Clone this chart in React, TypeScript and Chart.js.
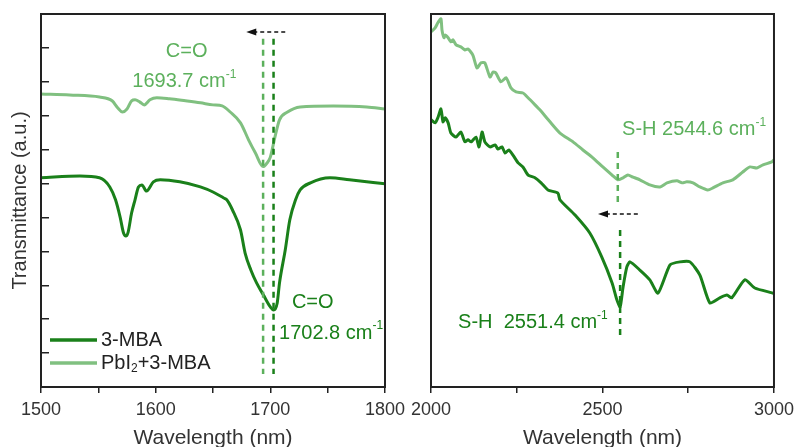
import React, { useEffect, useRef } from 'react';
import { Chart, registerables } from 'chart.js';

Chart.register(...registerables);

const FAMILY = '"Liberation Sans", Arial, sans-serif';
const DARK = '#1a801a';
const LIGHT = '#80c080';
const LIGHT_TEXT = '#5cb05c';
const AXIS = '#222';
const TEXT = '#333';

const seriesNames = ['3-MBA', 'PbI2+3-MBA'];
const leftXTicks = [1500, 1600, 1700, 1800];
const rightXTicks = [2000, 2500, 3000];

const leftPeakLight = 1693.7;
const leftPeakDark = 1702.8;
const rightPeakLight = 2544.6;
const rightPeakDark = 2551.4;

// Left panel: 3-MBA
const leftMbaX = [1500, 1534, 1551, 1560, 1565, 1569, 1572, 1574, 1576, 1579, 1582, 1585, 1588, 1592, 1598, 1604, 1621, 1639, 1650, 1659, 1662, 1667, 1674, 1678, 1683, 1688, 1694, 1700, 1702.8, 1706, 1708, 1713, 1717, 1722, 1726, 1735, 1752, 1769, 1800];
const leftMbaY = [6.17, 6.22, 6.17, 5.9, 5.52, 5.01, 4.54, 4.45, 4.57, 5.13, 5.52, 5.9, 5.96, 5.78, 6.05, 6.11, 6.05, 5.9, 5.75, 5.58, 5.52, 5.22, 4.63, 3.95, 3.45, 3.07, 2.71, 2.36, 2.27, 2.48, 3.07, 4.04, 4.93, 5.52, 5.81, 6.02, 6.17, 6.11, 5.99];

// Left panel: PbI2+3-MBA
const leftPbX = [1500, 1525, 1551, 1562, 1567, 1571, 1575, 1579, 1582, 1586, 1590, 1595, 1601, 1612, 1626, 1639, 1650, 1658, 1665, 1674, 1681, 1687, 1693.7, 1697, 1700, 1704, 1708, 1715, 1726, 1755, 1784, 1800];
const leftPbY = [8.64, 8.61, 8.55, 8.44, 8.23, 8.11, 8.2, 8.44, 8.47, 8.41, 8.32, 8.47, 8.53, 8.5, 8.44, 8.38, 8.32, 8.29, 8.11, 7.79, 7.29, 6.9, 6.5, 6.6, 6.78, 7.37, 7.88, 8.11, 8.26, 8.29, 8.26, 8.2];

// Right panel: 3-MBA
const rightMbaX = [2000, 2012, 2020, 2029, 2035, 2041, 2050, 2058, 2073, 2087, 2099, 2108, 2117, 2131, 2140, 2149, 2157, 2172, 2187, 2195, 2207, 2216, 2227, 2239, 2254, 2268, 2283, 2303, 2321, 2341, 2370, 2376, 2420, 2463, 2498, 2528, 2542, 2551.4, 2560, 2571, 2580, 2609, 2638, 2662, 2697, 2726, 2755, 2784, 2813, 2842, 2863, 2877, 2915, 2944, 2997, 3000];
const rightMbaY = [7.88, 7.79, 7.94, 8.2, 7.82, 7.94, 7.79, 7.49, 7.37, 7.52, 7.23, 7.29, 7.23, 7.37, 7.08, 7.52, 7.23, 7.08, 7.14, 7.02, 7.08, 6.9, 6.99, 6.84, 6.61, 6.49, 6.25, 6.17, 6.02, 5.81, 5.72, 5.52, 5.07, 4.54, 3.83, 3.07, 2.57, 2.36, 2.95, 3.54, 3.69, 3.45, 3.16, 2.77, 3.6, 3.69, 3.69, 3.3, 2.48, 2.63, 2.71, 2.63, 3.16, 2.92, 2.77, 2.75];

// Right panel: PbI2+3-MBA
const rightPbX = [2000, 2012, 2020, 2029, 2032, 2038, 2041, 2050, 2058, 2064, 2073, 2087, 2099, 2108, 2122, 2134, 2146, 2157, 2172, 2181, 2189, 2204, 2219, 2233, 2248, 2268, 2283, 2312, 2318, 2347, 2376, 2414, 2443, 2472, 2501, 2528, 2544.6, 2560, 2574, 2589, 2609, 2638, 2668, 2688, 2717, 2732, 2746, 2764, 2784, 2807, 2822, 2851, 2880, 2909, 2930, 2950, 2968, 2994, 3000];
const rightPbY = [10.47, 10.59, 10.74, 10.86, 10.53, 10.3, 10.38, 10.3, 10.18, 10.24, 10.09, 10.03, 9.94, 9.97, 9.79, 9.41, 9.56, 9.56, 9.14, 9.29, 9.26, 9.0, 9.12, 8.82, 8.7, 8.67, 8.53, 8.23, 8.17, 7.82, 7.49, 7.23, 6.99, 6.76, 6.49, 6.25, 6.11, 6.17, 6.25, 6.19, 6.11, 5.96, 5.9, 6.02, 6.08, 6.02, 6.05, 6.02, 5.9, 5.81, 5.87, 6.02, 6.11, 6.34, 6.49, 6.46, 6.55, 6.64, 6.7];

type Seg = { t: string; sup?: boolean; sub?: boolean };

function drawRich(ctx: CanvasRenderingContext2D, segs: Seg[], x: number, y: number, size: number, color: string, align: 'left' | 'center') {
  ctx.save();
  ctx.fillStyle = color;
  ctx.textBaseline = 'middle';
  ctx.textAlign = 'left';
  const fontFor = (s: Seg) => `${s.sup || s.sub ? Math.round(size * 0.62) : size}px ${FAMILY}`;
  let total = 0;
  for (const s of segs) {
    ctx.font = fontFor(s);
    total += ctx.measureText(s.t).width;
  }
  let cx = align === 'center' ? x - total / 2 : x;
  for (const s of segs) {
    ctx.font = fontFor(s);
    const dy = s.sup ? -size * 0.38 : s.sub ? size * 0.3 : 0;
    ctx.fillText(s.t, cx, y + dy);
    cx += ctx.measureText(s.t).width;
  }
  ctx.restore();
}

function vDash(ctx: CanvasRenderingContext2D, x: number, y1: number, y2: number, color: string) {
  ctx.save();
  ctx.strokeStyle = color;
  ctx.lineWidth = 2.5;
  ctx.setLineDash([6, 5]);
  ctx.beginPath();
  ctx.moveTo(x, y1);
  ctx.lineTo(x, y2);
  ctx.stroke();
  ctx.restore();
}

function arrowLeft(ctx: CanvasRenderingContext2D, xFrom: number, xTo: number, y: number) {
  ctx.save();
  ctx.strokeStyle = '#111';
  ctx.fillStyle = '#111';
  ctx.lineWidth = 1.5;
  ctx.setLineDash([4, 3]);
  ctx.beginPath();
  ctx.moveTo(xFrom, y);
  ctx.lineTo(xTo + 8, y);
  ctx.stroke();
  ctx.setLineDash([]);
  ctx.beginPath();
  ctx.moveTo(xTo, y);
  ctx.lineTo(xTo + 10, y - 3.5);
  ctx.lineTo(xTo + 10, y + 3.5);
  ctx.closePath();
  ctx.fill();
  ctx.restore();
}

const framePlugin = {
  id: 'frame',
  afterDraw(chart: any) {
    const { ctx, chartArea: a } = chart;
    ctx.save();
    ctx.strokeStyle = AXIS;
    ctx.lineWidth = 2;
    ctx.strokeRect(a.left, a.top, a.right - a.left, a.bottom - a.top);
    ctx.restore();
  },
};

const leftAnnot = {
  id: 'leftAnnot',
  afterDatasetsDraw(chart: any) {
    const { ctx, chartArea: a } = chart;
    const xs = chart.scales.x;
    const ys = chart.scales.y;
    const X = (v: number) => xs.getPixelForValue(v);
    const Y = (v: number) => ys.getPixelForValue(v);
    vDash(ctx, X(leftPeakLight), Y(10.27), Y(0.38), LIGHT_TEXT);
    vDash(ctx, X(leftPeakDark), Y(10.27), Y(0.38), DARK);
    arrowLeft(ctx, X(1713), X(1679), Y(10.47));
    drawRich(ctx, [{ t: 'C=O' }], X(1627), Y(9.88), 20, LIGHT_TEXT, 'center');
    drawRich(ctx, [{ t: `${leftPeakLight} cm` }, { t: '-1', sup: true }], X(1625), Y(9.0), 20, LIGHT_TEXT, 'center');
    drawRich(ctx, [{ t: 'C=O' }], X(1737), Y(2.48), 20, DARK, 'center');
    drawRich(ctx, [{ t: `${leftPeakDark} cm` }, { t: '-1', sup: true }], X(1707.6), Y(1.59), 20, DARK, 'left');
    // legend
    const ds = chart.data.datasets;
    const rows = [
      { color: ds[0].borderColor, segs: [{ t: seriesNames[0] }] as Seg[] },
      { color: ds[1].borderColor, segs: [{ t: 'PbI' }, { t: '2', sub: true }, { t: '+3-MBA' }] as Seg[] },
    ];
    rows.forEach((r, i) => {
      const y = a.bottom - 47 + i * 23;
      ctx.save();
      ctx.strokeStyle = r.color;
      ctx.lineWidth = 3.5;
      ctx.beginPath();
      ctx.moveTo(a.left + 9, y);
      ctx.lineTo(a.left + 56, y);
      ctx.stroke();
      ctx.restore();
      drawRich(ctx, r.segs, a.left + 60, y, 20, '#222', 'left');
    });
  },
};

const rightAnnot = {
  id: 'rightAnnot',
  afterDatasetsDraw(chart: any) {
    const { ctx } = chart;
    const xs = chart.scales.x;
    const ys = chart.scales.y;
    const X = (v: number) => xs.getPixelForValue(v);
    const Y = (v: number) => ys.getPixelForValue(v);
    vDash(ctx, X(rightPeakLight), Y(6.93), Y(5.4), LIGHT_TEXT);
    vDash(ctx, X(rightPeakDark), Y(4.63), Y(1.53), DARK);
    arrowLeft(ctx, X(2603), X(2487), Y(5.1));
    drawRich(ctx, [{ t: `S-H ${rightPeakLight} cm` }, { t: '-1', sup: true }], X(2557), Y(7.58), 20, LIGHT_TEXT, 'left');
    drawRich(ctx, [{ t: `S-H  ${rightPeakDark} cm` }, { t: '-1', sup: true }], X(2079), Y(1.89), 20, DARK, 'left');
  },
};

function xScale(min: number, max: number, step: number, labels: number[]) {
  return {
    type: 'linear',
    min,
    max,
    afterFit: (s: any) => {
      s.height = 60;
    },
    ticks: {
      stepSize: step,
      autoSkip: false,
      maxRotation: 0,
      padding: 6,
      color: TEXT,
      font: { size: 18, family: FAMILY },
      callback: (v: any) => (labels.includes(Number(v)) ? String(v) : ''),
    },
    grid: { drawOnChartArea: false, drawTicks: true, tickLength: 6, color: AXIS, lineWidth: 1.5 },
    border: { display: false },
    title: {
      display: true,
      text: 'Wavelength (nm)',
      color: TEXT,
      font: { size: 21, family: FAMILY, lineHeight: 0.86 },
      padding: { top: 0, bottom: 0 },
    },
  };
}

function makeConfig(side: 'left' | 'right'): any {
  const isLeft = side === 'left';
  const mbaX = isLeft ? leftMbaX : rightMbaX;
  const mbaY = isLeft ? leftMbaY : rightMbaY;
  const pbX = isLeft ? leftPbX : rightPbX;
  const pbY = isLeft ? leftPbY : rightPbY;
  const lineCommon = {
    pointRadius: 0,
    borderWidth: 3,
    fill: false,
    ...(isLeft ? { cubicInterpolationMode: 'monotone' } : { tension: 0.2 }),
  };
  return {
    type: 'line',
    data: {
      datasets: [
        { label: seriesNames[0], data: mbaX.map((x, i) => ({ x, y: mbaY[i] })), borderColor: DARK, ...lineCommon },
        { label: seriesNames[1], data: pbX.map((x, i) => ({ x, y: pbY[i] })), borderColor: LIGHT, ...lineCommon },
      ],
    },
    options: {
      responsive: false,
      animation: false,
      layout: {
        padding: isLeft ? { left: 0, right: 415, top: 14, bottom: 0 } : { left: 431, right: 26, top: 14, bottom: 0 },
      },
      plugins: { legend: { display: false }, tooltip: { enabled: false } },
      scales: {
        x: isLeft ? xScale(1500, 1800, 50, leftXTicks) : xScale(2000, 3000, 250, rightXTicks),
        y: isLeft
          ? {
              type: 'linear',
              min: 0,
              max: 11,
              afterFit: (s: any) => {
                s.width = 41;
              },
              ticks: { stepSize: 1, display: false },
              grid: { drawOnChartArea: false, drawTicks: true, tickLength: -8, color: AXIS, lineWidth: 1.5 },
              border: { display: false },
              title: {
                display: true,
                text: 'Transmittance (a.u.)',
                color: TEXT,
                font: { size: 20, family: FAMILY, lineHeight: 1.2 },
                padding: { top: 8, bottom: 0 },
              },
            }
          : { type: 'linear', min: 0, max: 11, display: false },
      },
    },
    plugins: [framePlugin, isLeft ? leftAnnot : rightAnnot],
  };
}

export default function App() {
  const leftRef = useRef<HTMLCanvasElement>(null);
  const rightRef = useRef<HTMLCanvasElement>(null);

  useEffect(() => {
    document.body.style.margin = '0';
    Chart.defaults.font.family = FAMILY;
    const c1 = new Chart(leftRef.current as HTMLCanvasElement, makeConfig('left'));
    const c2 = new Chart(rightRef.current as HTMLCanvasElement, makeConfig('right'));
    return () => {
      c1.destroy();
      c2.destroy();
    };
  }, []);

  const style: React.CSSProperties = { position: 'absolute', left: 0, top: 0, width: 800, height: 447 };
  return (
    <div style={{ position: 'relative', width: 800, height: 447, background: '#fff', overflow: 'hidden' }}>
      <canvas ref={leftRef} width={800} height={447} style={style} />
      <canvas ref={rightRef} width={800} height={447} style={style} />
    </div>
  );
}
